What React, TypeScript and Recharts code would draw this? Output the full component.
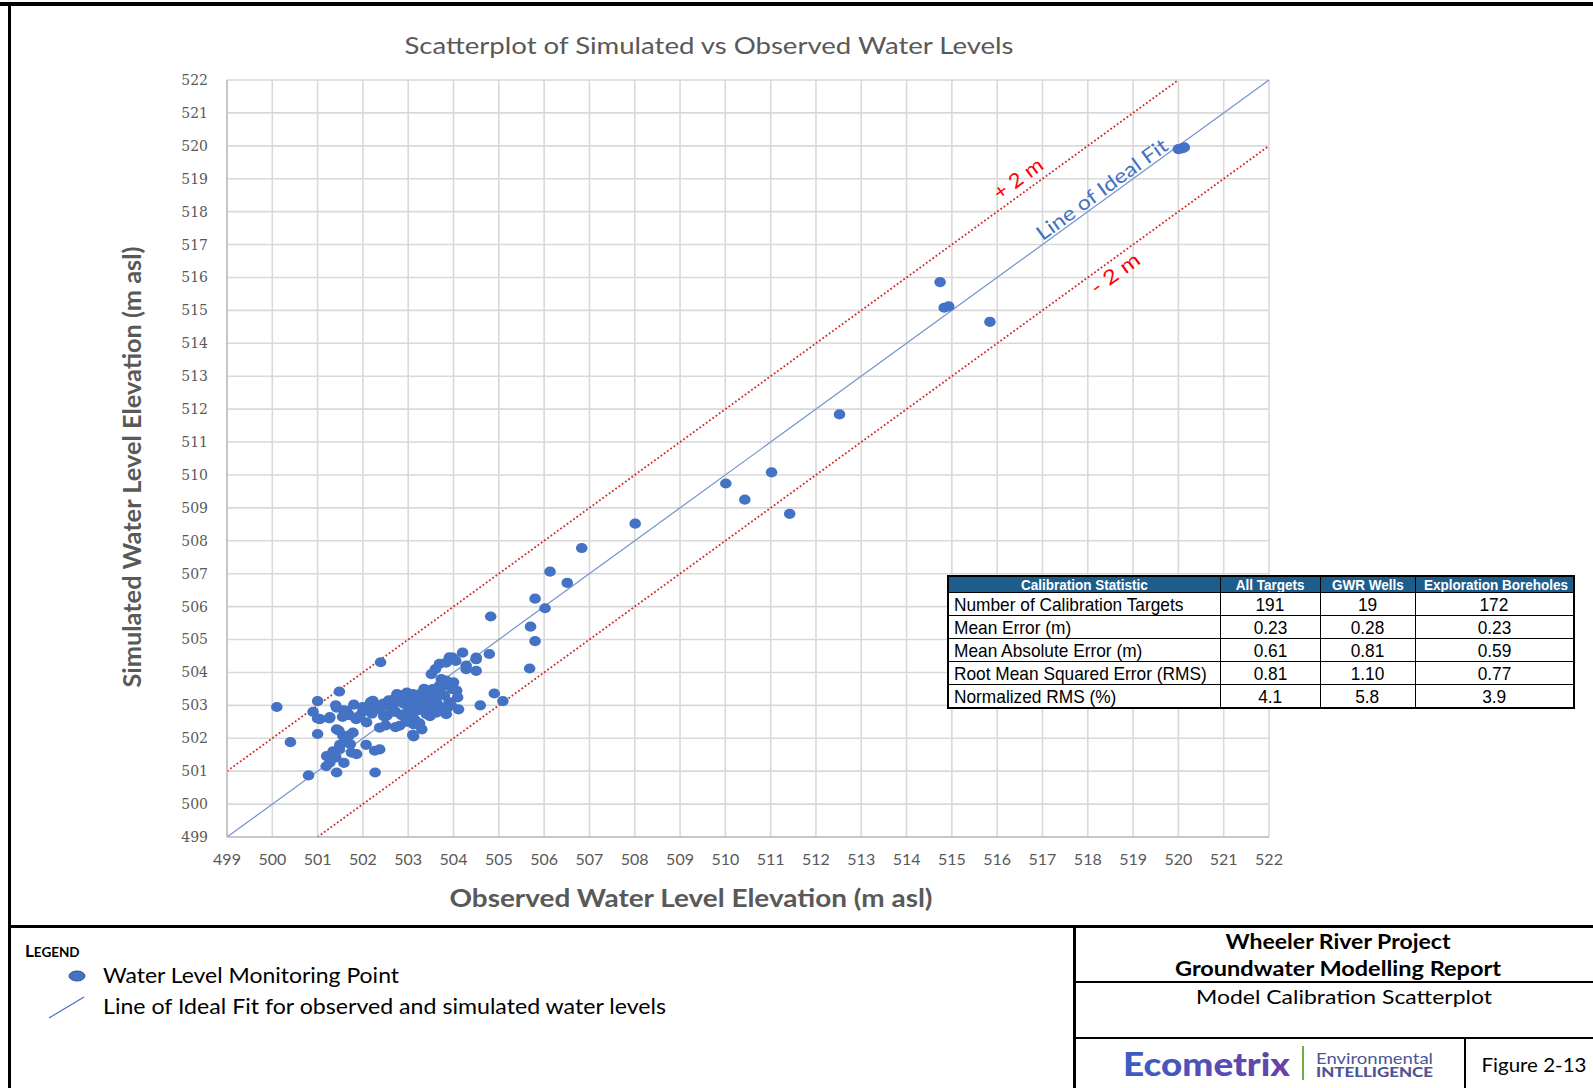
import React from 'react';
import { ScatterChart, Scatter, XAxis, YAxis, CartesianGrid, ReferenceLine, ReferenceDot } from 'recharts';

// Observed (x) and simulated (y) water levels, m asl
const observed = [
  500.10, 500.40, 500.80, 501.00, 501.00, 501.48, 502.39, 504.82, 504.90, 505.09,
  504.59, 505.68, 505.70, 505.80, 505.80, 506.02, 506.13, 506.51, 506.83, 508.01,
  510.01, 510.43, 511.02, 511.42, 512.52, 514.74, 514.83, 514.93, 515.84, 520.00,
  520.08, 520.13,
  500.90, 501.00, 501.05, 501.26, 501.27, 501.40, 501.42, 501.58, 501.64, 501.80,
  501.85, 501.93, 501.99, 502.08, 502.17, 502.22, 502.35, 502.37, 502.52, 502.57,
  502.66, 502.72, 502.08, 501.70, 502.20, 501.55,
  501.42, 501.56, 501.69, 501.49, 501.62, 501.34, 501.20, 501.40, 501.27, 501.58,
  501.19, 501.42, 501.75, 501.86, 501.72, 502.07, 502.26, 502.37, 502.27, 501.48,
  501.78, 501.47,
  502.37, 502.50, 502.72, 502.81, 503.12, 503.30, 503.12, 503.10, 502.46, 502.53,
  502.67, 502.75, 502.81, 502.82, 502.97, 502.96, 503.03, 503.10, 503.10, 503.19,
  503.25, 503.26, 503.40, 503.41, 503.40, 503.48, 503.51, 503.54, 503.62, 503.63,
  503.69, 503.73, 503.77, 503.84, 503.84, 503.98, 504.07, 504.09, 504.11, 503.69,
  503.91, 504.20, 504.50, 504.79, 504.28, 504.50, 503.84, 503.98, 504.28, 504.50,
  502.90, 503.00, 503.20, 503.30, 503.60, 503.70, 503.90, 503.50, 502.60, 502.00,
  502.45, 502.85, 503.15, 503.55, 503.80, 503.95, 504.00, 503.35, 503.65, 502.30,
  502.70, 503.05, 503.45, 503.85, 504.05, 503.60, 502.95, 503.25,
];
const simulated = [
  502.95, 501.88, 500.87, 503.13, 502.13, 503.42, 504.31, 505.70, 503.36, 503.13,
  503.00, 504.12, 505.39, 504.95, 506.24, 505.95, 507.06, 506.72, 507.78, 508.52,
  509.74, 509.25, 510.08, 508.82, 511.84, 515.86, 515.08, 515.12, 514.65, 519.90,
  519.92, 519.95,
  502.80, 502.60, 502.58, 502.60, 502.64, 503.00, 502.93, 502.85, 502.83, 503.02,
  502.58, 502.68, 502.80, 502.88, 503.10, 503.14, 502.90, 502.88, 502.68, 503.15,
  502.99, 502.80, 502.48, 502.70, 502.75, 502.65,
  502.27, 502.07, 502.08, 501.80, 501.90, 501.60, 501.46, 501.42, 501.26, 501.25,
  501.15, 500.96, 501.56, 501.52, 501.82, 501.80, 501.62, 501.66, 500.96, 501.68,
  502.17, 502.23,
  502.32, 502.39, 502.34, 502.38, 502.42, 502.27, 502.06, 502.10, 502.67, 502.98,
  502.88, 503.34, 503.30, 503.18, 503.39, 503.24, 502.93, 503.34, 502.63, 503.08,
  503.19, 503.34, 503.29, 502.98, 502.73, 502.67, 503.95, 503.49, 502.78, 503.08,
  503.60, 503.80, 503.59, 503.75, 502.73, 503.49, 503.45, 503.24, 502.88, 504.26,
  504.46, 504.60, 504.45, 504.56, 504.21, 504.05, 504.30, 504.45, 504.10, 504.40,
  503.05, 502.80, 502.85, 503.00, 503.20, 502.95, 503.10, 503.30, 503.05, 502.95,
  503.05, 502.70, 502.55, 502.90, 503.30, 503.00, 503.70, 503.50, 503.45, 503.00,
  503.20, 503.15, 503.10, 502.90, 504.35, 504.10, 502.50, 502.45,
];

const axisTicks = [499, 500, 501, 502, 503, 504, 505, 506, 507, 508, 509, 510, 511, 512, 513, 514, 515, 516, 517, 518, 519, 520, 521, 522];

const idealFitLine = [{ x: 499, y: 499 }, { x: 522, y: 522 }];
const plusTwoLine = [{ x: 499, y: 501 }, { x: 520, y: 522 }];
const minusTwoLine = [{ x: 501, y: 499 }, { x: 522, y: 520 }];

const idealFitLabel = { text: 'Line of Ideal Fit', x: 518.3, y: 518.7 };
const plusTwoLabel = { text: '+ 2 m', x: 516.45, y: 519.03 };
const minusTwoLabel = { text: '- 2 m', x: 518.59, y: 516.15 };

const statHeaders = ['Calibration Statistic', 'All Targets', 'GWR Wells', 'Exploration Boreholes'];
const statNames = ['Number of Calibration Targets', 'Mean Error (m)', 'Mean Absolute Error (m)', 'Root Mean Squared Error (RMS)', 'Normalized RMS (%)'];
const allTargets = ['191', '0.23', '0.61', '0.81', '4.1'];
const gwrWells = ['19', '0.28', '0.81', '1.10', '5.8'];
const explorationBoreholes = ['172', '0.23', '0.59', '0.77', '3.9'];

const points = observed.map((x, i) => ({ x, y: simulated[i] }));

const GRAY = '#595959';
const FONT = 'Lato, "Open Sans", sans-serif';

const Dot = (p: any) => <ellipse cx={p.cx} cy={p.cy} rx={5.8} ry={5.1} fill="#4472c4" />;

const rotatedLabel = (text: string, color: string, size: number, len: number) => (p: any) => (
  <text
    x={p.cx}
    y={p.cy}
    transform={`rotate(-36 ${p.cx} ${p.cy})`}
    textAnchor="middle"
    dominantBaseline="central"
    fill={color}
    fontSize={size}
    fontFamily={FONT}
    textLength={len}
    lengthAdjust="spacingAndGlyphs"
  >
    {text}
  </text>
);

const colW = [272, 100, 95, 159];
const tableFont = '"Liberation Sans", Arial, sans-serif';

const Narrow = ({ children, scale, origin }: { children: React.ReactNode; scale: number; origin: string }) => (
  <span style={{ display: 'inline-block', transform: `scaleX(${scale})`, transformOrigin: origin, whiteSpace: 'nowrap' }}>
    {children}
  </span>
);

export default function App() {
  const cell: React.CSSProperties = {
    border: '1.5px solid #000',
    padding: '0 5px',
    fontSize: 19,
    fontFamily: tableFont,
    color: '#000',
    height: 22,
    lineHeight: '21px',
    whiteSpace: 'nowrap',
    overflow: 'visible',
  };
  return (
    <div style={{ position: 'absolute', left: 0, top: 0, width: 1593, height: 1088, background: '#fff', overflow: 'hidden' }}>
      <ScatterChart width={1593} height={927} margin={{ top: 80, right: 324, bottom: 60, left: 167 }}>
        <CartesianGrid stroke="#d9d9d9" strokeWidth={1.6} />
        <XAxis
          type="number"
          dataKey="x"
          domain={[499, 522]}
          ticks={axisTicks}
          interval={0}
          tickLine={false}
          tickSize={0}
          tickMargin={17}
          height={30}
          axisLine={{ stroke: '#bfbfbf', strokeWidth: 1.5 }}
          tick={{ fill: GRAY, fontSize: 16, fontFamily: FONT }}
        />
        <YAxis
          type="number"
          dataKey="y"
          domain={[499, 522]}
          ticks={axisTicks}
          interval={0}
          tickLine={false}
          tickSize={0}
          tickMargin={19}
          width={60}
          axisLine={{ stroke: '#bfbfbf', strokeWidth: 1.5 }}
          tick={{ fill: GRAY, fontSize: 14, fontFamily: '"DejaVu Serif", serif' }}
        />
        <ReferenceLine segment={plusTwoLine} stroke="#d02a2a" strokeWidth={1.8} strokeDasharray="1.8 2.2" />
        <ReferenceLine segment={minusTwoLine} stroke="#d02a2a" strokeWidth={1.8} strokeDasharray="1.8 2.2" />
        <ReferenceLine segment={idealFitLine} stroke="#7393c9" strokeWidth={1.2} />
        <Scatter data={points} shape={Dot} isAnimationActive={false} />
        <ReferenceDot x={idealFitLabel.x} y={idealFitLabel.y} r={0} shape={rotatedLabel(idealFitLabel.text, '#4472c4', 20, 157)} />
        <ReferenceDot x={plusTwoLabel.x} y={plusTwoLabel.y} r={0} shape={rotatedLabel(plusTwoLabel.text, '#ff0000', 20, 56)} />
        <ReferenceDot x={minusTwoLabel.x} y={minusTwoLabel.y} r={0} shape={rotatedLabel(minusTwoLabel.text, '#ff0000', 20, 56)} />
      </ScatterChart>

      <svg width={1593} height={1088} style={{ position: 'absolute', left: 0, top: 0, pointerEvents: 'none' }}>
        <defs>
          <linearGradient id="ecoGrad" x1="0" x2="1" y1="0" y2="0">
            <stop offset="0%" stopColor="#3a5fc4" />
            <stop offset="100%" stopColor="#6a40a8" />
          </linearGradient>
        </defs>
        {/* frame */}
        <rect x={0} y={2} width={1593} height={4} fill="#000" />
        <rect x={8} y={2} width={3} height={1086} fill="#000" />
        <rect x={8} y={925} width={1585} height={3} fill="#000" />
        <rect x={1073} y={925} width={3} height={163} fill="#000" />
        <rect x={1073} y={981} width={520} height={2} fill="#000" />
        <rect x={1073} y={1037} width={520} height={2} fill="#000" />
        <rect x={1464} y={1037} width={2} height={51} fill="#000" />

        {/* titles */}
        <text x={709} y={54} textAnchor="middle" fill={GRAY} fontSize={23} fontFamily={FONT} textLength={609} lengthAdjust="spacingAndGlyphs">
          Scatterplot of Simulated vs Observed Water Levels
        </text>
        <text x={691} y={907} textAnchor="middle" fill={GRAY} fontSize={24} fontWeight="bold" fontFamily={FONT} textLength={483} lengthAdjust="spacingAndGlyphs">
          Observed Water Level Elevation (m asl)
        </text>
        <text x={141} y={467} transform="rotate(-90 141 467)" textAnchor="middle" fill={GRAY} fontSize={24} fontWeight="bold" fontFamily={FONT} textLength={441} lengthAdjust="spacingAndGlyphs">
          Simulated Water Level Elevation (m asl)
        </text>

        {/* legend */}
        <text x={25} y={957} fill="#000" fontWeight="bold" fontFamily={FONT}>
          <tspan fontSize={17}>L</tspan>
          <tspan fontSize={13.5}>EGEND</tspan>
        </text>
        <ellipse cx={77} cy={976} rx={8} ry={5} fill="#4472c4" stroke="#2f528f" strokeWidth={1} />
        <text x={103} y={983} fill="#000" fontSize={21} fontFamily={FONT} textLength={296} lengthAdjust="spacingAndGlyphs">
          Water Level Monitoring Point
        </text>
        <line x1={49} y1={1018} x2={84} y2={997} stroke="#4472c4" strokeWidth={1.2} />
        <text x={103} y={1014} fill="#000" fontSize={21} fontFamily={FONT} textLength={563} lengthAdjust="spacingAndGlyphs">
          Line of Ideal Fit for observed and simulated water levels
        </text>

        {/* title block */}
        <text x={1338} y={949} textAnchor="middle" fill="#000" fontSize={20} fontWeight="bold" fontFamily={FONT} textLength={225} lengthAdjust="spacingAndGlyphs">
          Wheeler River Project
        </text>
        <text x={1338} y={976} textAnchor="middle" fill="#000" fontSize={20} fontWeight="bold" fontFamily={FONT} textLength={326} lengthAdjust="spacingAndGlyphs">
          Groundwater Modelling Report
        </text>
        <text x={1344} y={1004} textAnchor="middle" fill="#000" fontSize={20} fontFamily={FONT} textLength={296} lengthAdjust="spacingAndGlyphs">
          Model Calibration Scatterplot
        </text>
        <text x={1123} y={1076} fill="url(#ecoGrad)" fontSize={33} fontWeight="900" fontFamily={FONT} textLength={167} lengthAdjust="spacingAndGlyphs">
          Ecometrix
        </text>
        <rect x={1302} y={1046} width={2} height={34} fill="#6fae3f" />
        <text x={1316} y={1064} fill="#4b5597" fontSize={15} fontFamily={FONT} textLength={117} lengthAdjust="spacingAndGlyphs">
          Environmental
        </text>
        <text x={1316} y={1077} fill="#4b5597" fontSize={13} fontWeight="900" fontFamily={FONT} textLength={117} lengthAdjust="spacingAndGlyphs">
          INTELLIGENCE
        </text>
        <text x={1534} y={1072} textAnchor="middle" fill="#000" fontSize={20} fontFamily={FONT} textLength={105} lengthAdjust="spacingAndGlyphs">
          Figure 2-13
        </text>
      </svg>

      <table
        style={{
          position: 'absolute',
          left: 947,
          top: 575,
          width: 626,
          borderCollapse: 'collapse',
          tableLayout: 'fixed',
          background: '#fff',
          border: '2px solid #000',
        }}
      >
        <colgroup>
          {colW.map((w, i) => (
            <col key={i} style={{ width: w }} />
          ))}
        </colgroup>
        <thead>
          <tr>
            {statHeaders.map((h, i) => (
              <th
                key={i}
                style={{
                  ...cell,
                  height: 15,
                  lineHeight: '15px',
                  fontSize: 15,
                  background: '#1d5d8c',
                  color: '#fff',
                  fontWeight: 'bold',
                  textAlign: 'center',
                  padding: 0,
                  overflow: 'hidden',
                }}
              >
                <Narrow scale={0.9} origin="center">{h}</Narrow>
              </th>
            ))}
          </tr>
        </thead>
        <tbody>
          {statNames.map((n, r) => (
            <tr key={r}>
              <td style={{ ...cell, textAlign: 'left' }}>
                <Narrow scale={0.91} origin="left">{n}</Narrow>
              </td>
              <td style={{ ...cell, textAlign: 'center' }}>
                <Narrow scale={0.91} origin="center">{allTargets[r]}</Narrow>
              </td>
              <td style={{ ...cell, textAlign: 'center' }}>
                <Narrow scale={0.91} origin="center">{gwrWells[r]}</Narrow>
              </td>
              <td style={{ ...cell, textAlign: 'center' }}>
                <Narrow scale={0.91} origin="center">{explorationBoreholes[r]}</Narrow>
              </td>
            </tr>
          ))}
        </tbody>
      </table>
    </div>
  );
}
